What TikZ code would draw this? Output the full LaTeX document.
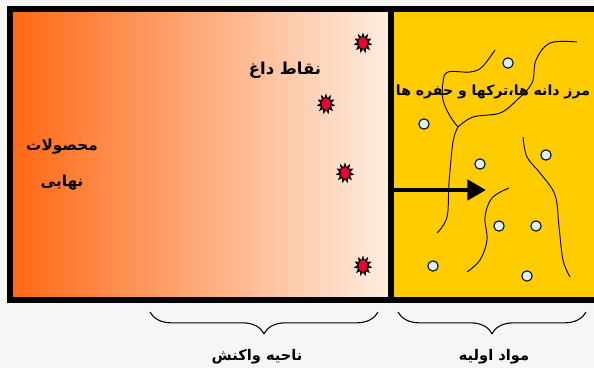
\documentclass[tikz,border=0pt]{standalone}
\usepackage{fontspec}
\newfontfamily\arabicfont[Script=Arabic]{DejaVu Sans}
\TeXXeTstate=1
\usetikzlibrary{arrows.meta,positioning,decorations.pathreplacing,shapes.geometric}

\definecolor{paper}{RGB}{246,247,244}
\definecolor{rustorange}{RGB}{255,104,20}
\definecolor{salmon}{RGB}{255,168,125}
\definecolor{peach}{RGB}{253,238,226}
\definecolor{gold}{RGB}{255,204,0}
\definecolor{paleblue}{RGB}{214,244,250}
\definecolor{hotred}{RGB}{238,0,48}

% persian text, bold, right to left
\newcommand{\fa}[1]{{\arabicfont\bfseries\beginR #1\endR}}

\begin{document}
\begin{tikzpicture}[x=0.03cm, y=-0.03cm, >={Triangle[length=5.6mm,width=6mm]}]
	\tikzstyle{txt}=[font=\fontsize{13}{15}\selectfont, inner sep=1pt]
	\tikzstyle{pore}=[circle, draw, fill=paleblue, line width=0.9pt, minimum size=3.1mm, inner sep=0pt]
	\tikzstyle{hotspot}=[star, star points=11, star point ratio=1.7, fill=black, minimum size=5.6mm, inner sep=0pt, yscale=1.15]
	\tikzstyle{boundary}=[line width=0.8pt]
	\tikzstyle{zone}=[decorate, decoration={brace, mirror, amplitude=6.5mm}, line width=0.9pt]
	% paper
	\fill[paper] (0,0) rectangle (594,368);
	\useasboundingbox (0,0) rectangle (594,368);
	% % Regions
	% reaction zone
	\shade[left color=rustorange, middle color=salmon, right color=peach]
		(10,9) rectangle (391,300);
	% raw material
	\fill[gold] (391,9) rectangle (600,300);
	\draw[line width=4.6pt] (10,9) rectangle (600,300);
	\draw[line width=5pt] (391,9) coordinate (front top) -- (391,300) coordinate (front bottom);
	% % Grain boundaries
	\coordinate (junction) at (458,127);
	\draw[boundary] plot[smooth, tension=0.6] coordinates
		{(495,50) (482,67) (470,72) (448,72) (443,82) (443,100) (450,116) (458,127)};
	\draw[boundary] plot[smooth, tension=0.6] coordinates
		{(458,127) (453,142) (449,183) (447,217) (437,233)};
	\draw[boundary] plot[smooth, tension=0.6] coordinates
		{(458,127) (473,117) (500,113) (517,100) (532,83) (536,60) (550,43) (577,42)};
	\draw[boundary] plot[smooth, tension=0.6] coordinates
		{(523,137) (527,157) (540,173) (555,195) (559,227) (563,260) (570,277)};
	\draw[boundary] plot[smooth, tension=0.6] coordinates
		{(509,188) (492,198) (485,217) (487,240) (480,260) (467,272)};
	% % Pores
	\node[pore] (pore1) at (508,63) {};
	\node[pore] (pore2) at (424,124) {};
	\node[pore] (pore3) at (546,155) {};
	\node[pore] (pore4) at (480,164) {};
	\node[pore] (pore5) at (499,226) {};
	\node[pore] (pore6) at (536,226) {};
	\node[pore] (pore7) at (433,266) {};
	\node[pore] (pore8) at (527,276) {};
	% % Hot spots
	\foreach \name/\pos in {hot1/{(363,43)}, hot2/{(326,104)}, hot3/{(345,173)}, hot4/{(363,266)}} {
		\node[hotspot] (\name) at \pos {};
		\fill[hotred] (\name.center) ellipse [x radius=1.3mm, y radius=1.8mm];
	}
	% % Labels
	\node[txt] (products) at (62,147) {\fa{محصولات}};
	\node[txt, below=5.2mm of products] (final) {\fa{نهایی}};
	\node[txt, font=\fontsize{14}{16}\selectfont] (hotspots) at (285,70) {\fa{نقاط داغ}};
	\node[txt, font=\fontsize{12}{14}\selectfont] (defects) at (493,92) {\fa{مرز دانه ها،ترکها و حفره ها}};
	% reaction front moving into the raw material
	\coordinate (front) at (394,190);
	\coordinate (advance) at (486,190);
	\draw[->, line width=4.2pt] (front) -- (advance);
	% % Braces
	\draw[zone] (150,312) coordinate (zone1 start) -- (378,312) coordinate (zone1 end);
	\draw[zone] (398,312) coordinate (zone2 start) -- (586,312) coordinate (zone2 end);
	\node[txt, font=\fontsize{12.5}{14}\selectfont] (reaction) at (257,357) {\fa{ناحیه واکنش}};
	\node[txt, font=\fontsize{12.5}{14}\selectfont] (raw) at (494,357) {\fa{مواد اولیه}};
\end{tikzpicture}
\end{document}
